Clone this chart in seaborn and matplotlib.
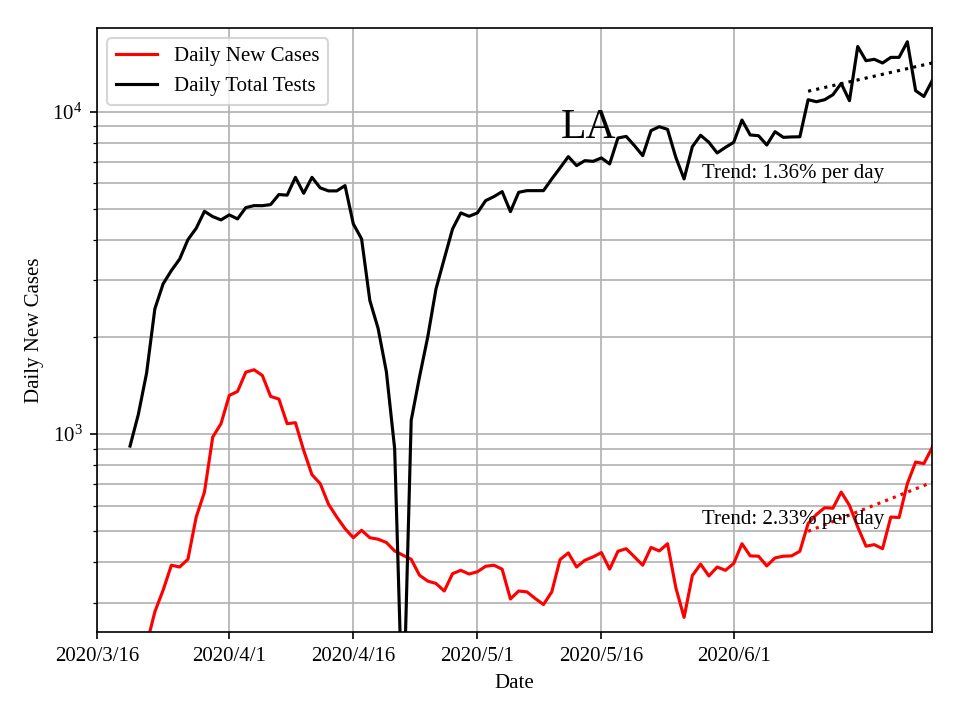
import matplotlib.pyplot as plt
import seaborn as sns
import numpy as np
import pandas as pd

plt.rcParams["font.family"] = ["Liberation Serif", "DejaVu Serif"]
plt.rcParams["mathtext.fontset"] = "stix"
plt.rcParams["font.size"] = 10

# daily values from 2020/3/20 to 2020/6/25
start_date = "2020-03-20"

daily_cases = [
    160, 190, 222, 281, 328, 392, 387, 409, 553, 661,
    979, 1077, 1318, 1356, 1556, 1583, 1520, 1309, 1284, 1077,
    1085, 890, 748, 702, 606, 553, 509, 477, 503, 477,
    472, 461, 434, 421, 409, 365, 350, 344, 326, 369,
    378, 368, 374, 389, 392, 381, 308, 326, 324, 309,
    296, 324, 408, 428, 387, 406, 416, 429, 381, 433,
    441, 416, 392, 445, 434, 457, 334, 270, 364, 395,
    363, 387, 378, 397, 457, 419, 418, 390, 413, 418,
    419, 433, 528, 563, 591, 589, 661, 601, 515, 449,
    454, 441, 553, 551, 702, 819, 810, 908,
]

daily_tests = [
    918, 1150, 1545, 2446, 2924, 3216, 3490, 4010, 4348, 4909,
    4727, 4617, 4785, 4650, 5041, 5113, 5110, 5150, 5533, 5510,
    6257, 5583, 6257, 5803, 5680, 5680, 5899, 4487, 4032, 2596,
    2126, 1560, 901, 120, 1103, 1502, 2000, 2822, 3500, 4328,
    4853, 4738, 4853, 5298, 5452, 5650, 4898, 5623, 5690, 5690,
    5690, 6186, 6692, 7255, 6803, 7050, 7015, 7187, 6886, 8287,
    8383, 7846, 7305, 8733, 8985, 8814, 7218, 6186, 7790, 8450,
    8035, 7447, 7752, 8035, 9423, 8468, 8425, 7884, 8670, 8325,
    8350, 8360, 10894, 10740, 10894, 11290, 12240, 10817, 15930, 14390,
    14540, 14160, 14740, 14740, 16480, 11620, 11150, 12480,
]

tick_dates = ["2020-03-16", "2020-04-01", "2020-04-16", "2020-05-01", "2020-05-16", "2020-06-01"]
tick_labels = ["2020/3/16", "2020/4/1", "2020/4/16", "2020/5/1", "2020/5/16", "2020/6/1"]
trend_labels = ["Trend: 1.36% per day", "Trend: 2.33% per day"]
trend_days = 16

dates = pd.date_range(start_date, periods=len(daily_cases), freq="D")


def fit_trend(values, n):
    """Log-linear fit over the last n days."""
    y = np.log10(np.asarray(values[-n:], dtype=float))
    x = np.arange(n)
    slope, intercept = np.polyfit(x, y, 1)
    return 10 ** (intercept + slope * x)


fig, ax = plt.subplots(figsize=(6.4, 4.8), dpi=150)

sns.lineplot(x=dates, y=daily_cases, color="red", label="Daily New Cases", ax=ax)
sns.lineplot(x=dates, y=daily_tests, color="black", label="Daily Total Tests", ax=ax)

sns.lineplot(x=dates[-trend_days:], y=fit_trend(daily_tests, trend_days),
             color="black", linestyle=":", ax=ax)
sns.lineplot(x=dates[-trend_days:], y=fit_trend(daily_cases, trend_days),
             color="red", linestyle=":", ax=ax)

ax.set_yscale("log")
ax.set_ylim(243, 18170)
ax.set_xlim(pd.Timestamp("2020-03-16"), dates[-1])
ax.set_xticks(pd.to_datetime(tick_dates))
ax.set_xticklabels(tick_labels)

ax.yaxis.grid(True, which="both", color="#b0b0b0", linewidth=0.8)
ax.xaxis.grid(True, which="major", color="#b0b0b0", linewidth=0.8)

ax.text(0.7244, 0.7512, trend_labels[0], transform=ax.transAxes, va="baseline", ha="left")
ax.text(0.7244, 0.1783, trend_labels[1], transform=ax.transAxes, va="baseline", ha="left")
ax.text(0.588, 0.8174, "LA", transform=ax.transAxes, va="baseline", ha="center", fontsize=20)

ax.set_xlabel("Date")
ax.set_ylabel("Daily New Cases")
ax.legend(loc="upper left")

plt.subplots_adjust(left=0.101, right=0.971, top=0.961, bottom=0.122)
plt.savefig("out.png")
